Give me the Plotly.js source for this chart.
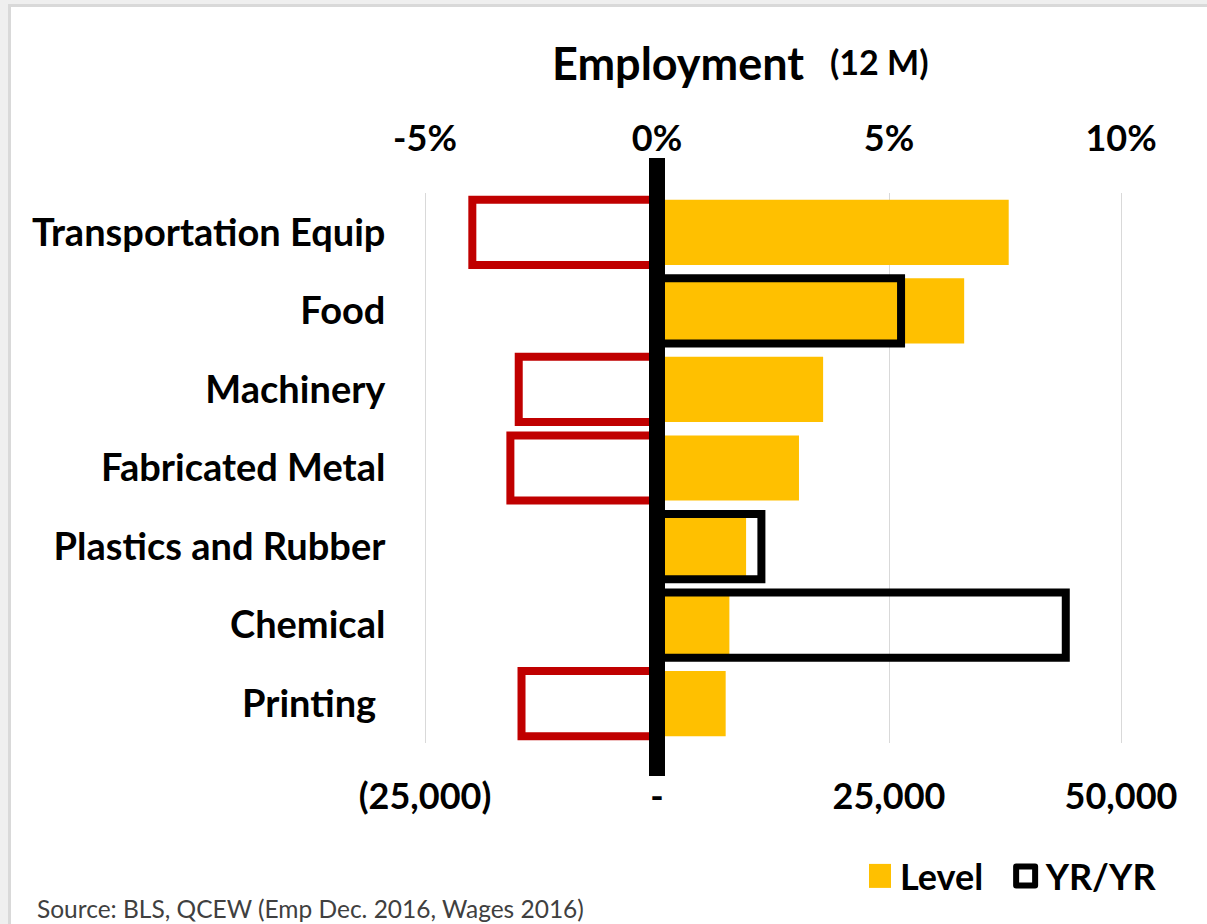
<!DOCTYPE html>
<html>
<head>
<meta charset="utf-8">
<script src="https://cdn.plot.ly/plotly-3.0.1.min.js"></script>
<style>
  html, body { margin:0; padding:0; background:#efefef; overflow:hidden; }
  #frame { position:absolute; left:8px; top:4px; width:1196px; height:917px;
           border-left:3px solid #d9d9d9; border-top:3px solid #d9d9d9; background:#fff; }
  #chart { width:1196px; height:917px; }
</style>
</head>
<body>
<div id="frame"><div id="chart"></div></div>
<script>
// ---- data ----
const industries = ["Transportation Equip", "Food", "Machinery", "Fabricated Metal",
                    "Plastics and Rubber", "Chemical", "Printing "];
const levelChange = [37900, 33100, 17900, 15300, 9600, 7800, 7400];   // 12-month change in employment
const yoyPct      = [-3.98, 5.26, -2.98, -3.16, 2.25, 8.81, -2.92];   // YR/YR % change
const levelTicks  = [-25000, 0, 25000, 50000];
const levelLabels = ["(25,000)", "-", "25,000", "50,000"];
const pctTicks    = [-5, 0, 5, 10];
const pctLabels   = ["-5%", "0%", "5%", "10%"];

// ---- layout helpers ----
// plot area on page: x 420..1126, y 193..743 (a few px of padding beyond the edge ticks)
const PL = 420, PR = 1126, PT = 193, PB = 743;
const px = v => (v - PL) / (PR - PL);
const py = v => (PB - v) / (PB - PT);
const PAD_L = 5 * 75000 / 696;    // 5 px of padding, in data units
const PAD_P = 5 * 15 / 696;

const F = "Lato, 'Open Sans', sans-serif";
const BAR_W = 0.83;

const negIdx = yoyPct.map((v, i) => i).filter(i => yoyPct[i] < 0);
const posIdx = yoyPct.map((v, i) => i).filter(i => yoyPct[i] >= 0);

const traces = [
  {
    type: "bar", orientation: "h", name: "Level\u00a0\u00a0",
    y: industries, x: levelChange, xaxis: "x", yaxis: "y",
    width: BAR_W,
    marker: { color: "#FFC000", line: { width: 0 } }
  },
  {
    type: "bar", orientation: "h", name: "YR/YR neg", showlegend: false,
    y: negIdx.map(i => industries[i]), x: negIdx.map(i => yoyPct[i]),
    xaxis: "x2", yaxis: "y", width: BAR_W,
    marker: { color: "rgba(0,0,0,0)", line: { color: "#C00000", width: 8 } }
  },
  {
    type: "bar", orientation: "h", name: "YR/YR",
    y: posIdx.map(i => industries[i]), x: posIdx.map(i => yoyPct[i]),
    xaxis: "x2", yaxis: "y", width: BAR_W,
    marker: { color: "rgba(0,0,0,0)", line: { color: "#000000", width: 8 } }
  }
];

const tickFont = { family: F, size: 36, color: "#000", weight: 700 };

const layout = {
  width: 1196, height: 917,
  margin: { l: 409, r: 81, t: 186, b: 181, pad: 0 },
  paper_bgcolor: "#ffffff", plot_bgcolor: "#ffffff",
  barmode: "overlay",
  showlegend: true,
  legend: {
    orientation: "h", x: px(1163), xanchor: "right", y: py(876), yanchor: "middle",
    font: { family: F, size: 36, color: "#000", weight: 700 },
    bgcolor: "rgba(0,0,0,0)", traceorder: "normal", itemclick: false
  },
  xaxis: {
    range: [-25000 - PAD_L, 50000 + PAD_L], tickvals: levelTicks, ticktext: levelLabels,
    showgrid: true, gridcolor: "#d9d9d9", gridwidth: 1, zeroline: false, showline: false,
    ticks: "outside", ticklen: 22, tickcolor: "rgba(0,0,0,0)",
    tickfont: tickFont, side: "bottom", fixedrange: true
  },
  xaxis2: {
    range: [-5 - PAD_P, 10 + PAD_P], tickvals: pctTicks, ticktext: pctLabels,
    overlaying: "x", side: "top", anchor: "y",
    showgrid: false, zeroline: false, showline: false,
    ticks: "outside", ticklen: 27, tickcolor: "rgba(0,0,0,0)",
    tickfont: tickFont, fixedrange: true
  },
  yaxis: {
    autorange: "reversed", type: "category",
    showgrid: false, zeroline: false, showline: false,
    ticks: "outside", ticklen: 26, tickcolor: "rgba(0,0,0,0)",
    tickfont: { family: F, size: 38, color: "#000", weight: 700 }, fixedrange: true
  },
  shapes: [
    { type: "line", xref: "x", yref: "paper", x0: 0, x1: 0, y0: py(776), y1: py(158),
      line: { color: "#000", width: 16 }, layer: "above" }
  ],
  annotations: [
    { text: "Employment", xref: "paper", yref: "paper", x: px(678), y: py(63),
      xanchor: "center", yanchor: "middle", showarrow: false,
      font: { family: F, size: 45, color: "#000", weight: 700 } },
    { text: "(12 M)", xref: "paper", yref: "paper", x: px(879), y: py(61),
      xanchor: "center", yanchor: "middle", showarrow: false,
      font: { family: F, size: 34, color: "#000", weight: 700 } },
    { text: "Source: BLS, QCEW (Emp Dec. 2016, Wages 2016)", xref: "paper", yref: "paper",
      x: px(35), y: py(908), xanchor: "left", yanchor: "middle", showarrow: false,
      font: { family: F, size: 24.5, color: "#404040" } }
  ]
};

Plotly.newPlot("chart", traces, layout, { displayModeBar: false, staticPlot: true }).then(() => {
  // enlarge legend swatches to match the reference
  document.querySelectorAll("#chart .legend .traces").forEach(g => {
    const name = g.querySelector(".legendtext").textContent.trim();
    g.querySelectorAll(".legendpoints path").forEach(p => {
      if (name.indexOf("Level") === 0) {
        p.setAttribute("d", "M11,12H-11V-12H11Z");
      } else {
        p.setAttribute("d", "M9.5,9.5H-9.5V-9.5H9.5Z");
        p.style.strokeWidth = "6px";
        p.style.strokeLinejoin = "round";
      }
    });
  });
});
</script>
</body>
</html>
